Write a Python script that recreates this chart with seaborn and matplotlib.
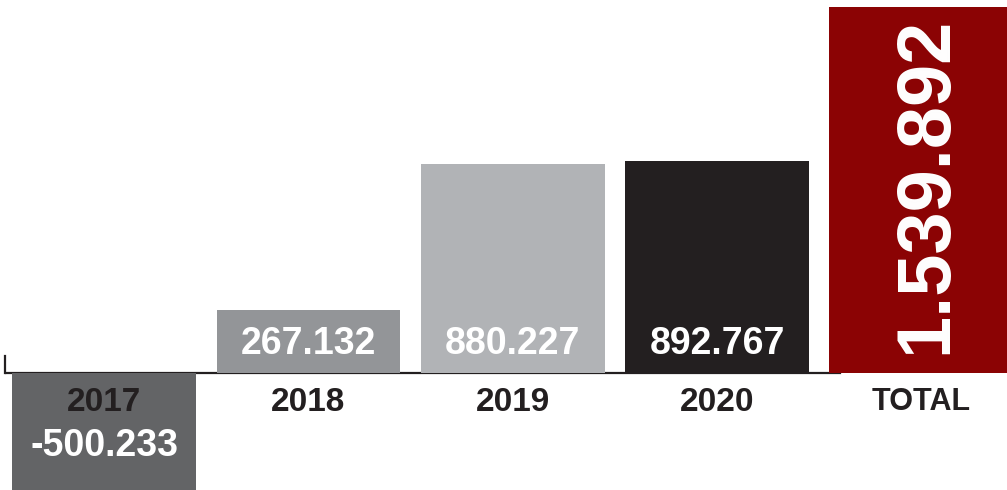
import matplotlib
matplotlib.use("Agg")
import matplotlib.pyplot as plt
import seaborn as sns
import pandas as pd

categories = ["2017", "2018", "2019", "2020", "TOTAL"]
values = [-500.233, 267.132, 880.227, 892.767, 1539.892]
value_labels = ["-500.233", "267.132", "880.227", "892.767", "1.539.892"]
colors = ["#636466", "#939598", "#b1b3b6", "#231f20", "#8b0304"]

sns.set_theme(style="white")
plt.rcParams["font.family"] = ["Liberation Sans", "DejaVu Sans"]

df = pd.DataFrame({"cat": categories, "val": values})

fig = plt.figure(figsize=(10.07, 4.90), dpi=100)
ax = fig.add_axes([0, 0, 1, 1])
sns.barplot(data=df, x="cat", y="val", hue="cat", palette=colors,
            width=0.9, saturation=1, legend=False, ax=ax, zorder=3,
            linewidth=0, edgecolor="none")

ax.set_xlim(-0.51, 4.42)
ax.set_ylim(-490, 1570)
ax.set_xlabel("")
ax.set_ylabel("")
ax.set_xticks([])
ax.set_yticks([])
for s in ["top", "right"]:
    ax.spines[s].set_visible(False)
ax.spines["bottom"].set_position(("data", 0))
ax.spines["bottom"].set_bounds(-0.48, 3.6)
ax.spines["bottom"].set_color("#231f20")
ax.spines["bottom"].set_linewidth(1.6)
ax.spines["bottom"].set_zorder(2)
ax.spines["left"].set_position(("axes", 0.0045))
ax.spines["left"].set_bounds(0, 75)
ax.spines["left"].set_color("#231f20")
ax.spines["left"].set_linewidth(1.6)

dark = "#231f20"
for i, (c, v, lab) in enumerate(zip(categories, values, value_labels)):
    if c == "TOTAL":
        ax.text(i + 0.025, v / 2 + 20, lab, rotation=90, ha="center", va="center",
                color="white", fontsize=54.5, fontweight="bold", zorder=5)
        ax.text(i, -122, c, ha="center", va="center", color=dark,
                fontsize=22, fontweight="bold", zorder=5)
    elif v < 0:
        ax.text(i, -122, c, ha="center", va="center", color=dark,
                fontsize=24, fontweight="bold", zorder=5)
        ax.text(i, -305, lab, ha="center", va="center", color="white",
                fontsize=27, fontweight="bold", zorder=5)
    else:
        ax.text(i, -122, c, ha="center", va="center", color=dark,
                fontsize=24, fontweight="bold", zorder=5)
        ax.text(i, 125, lab, ha="center", va="center", color="white",
                fontsize=27, fontweight="bold", zorder=5)

fig.savefig("out.png", dpi=100)
